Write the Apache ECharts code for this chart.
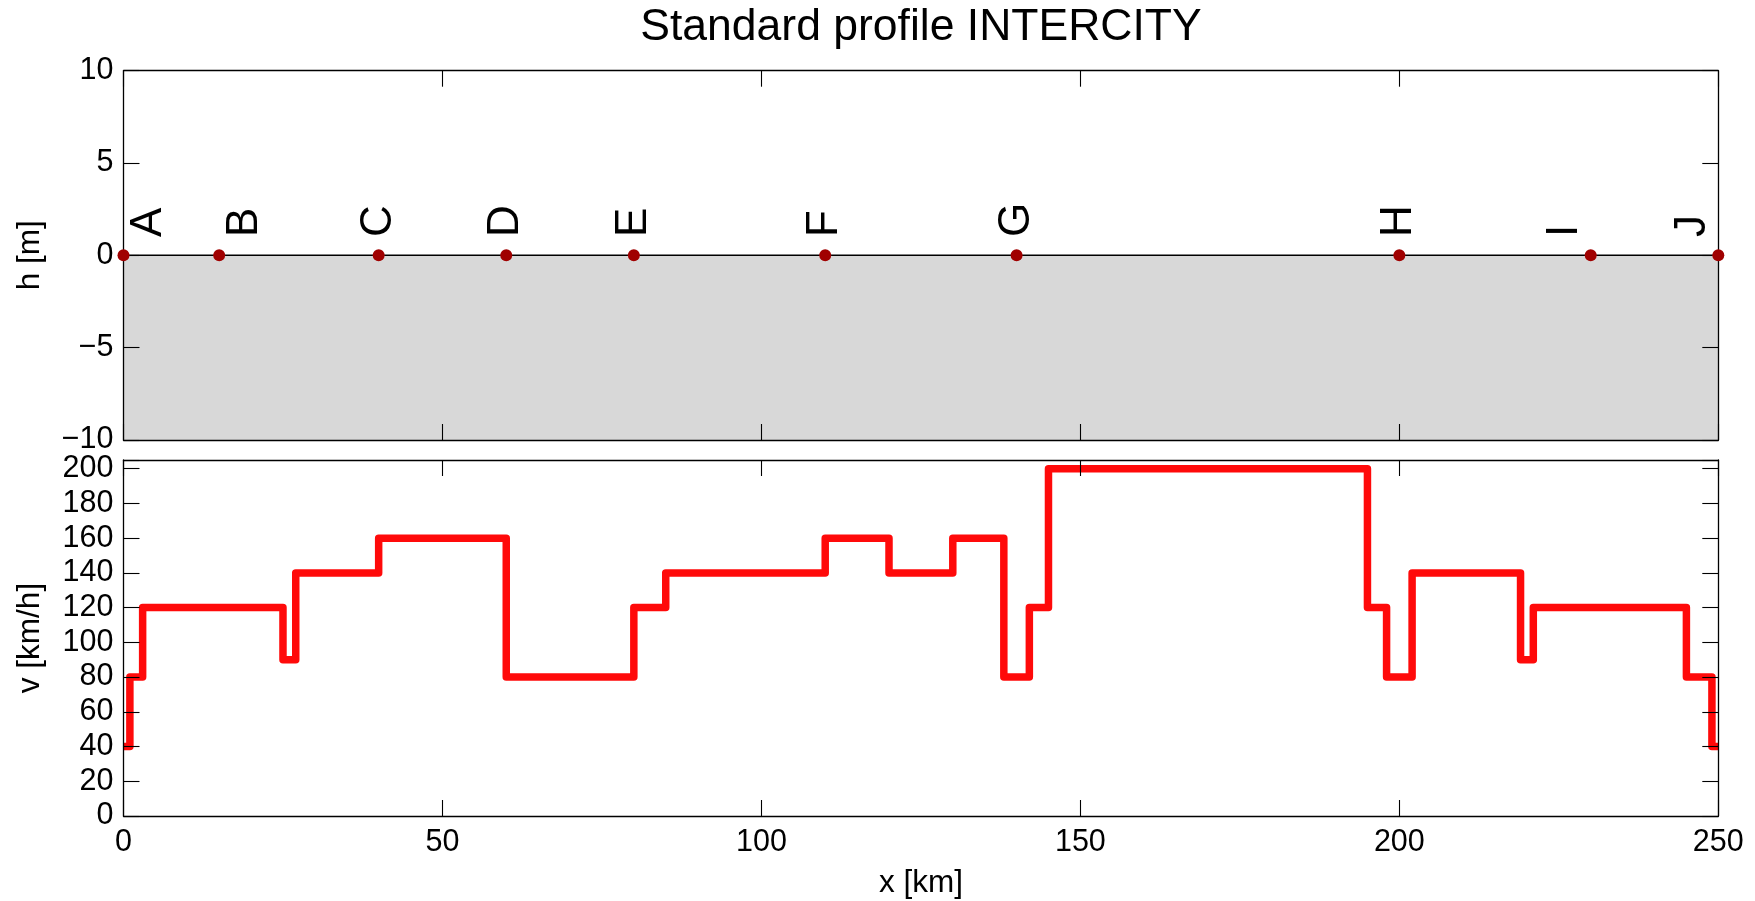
<!DOCTYPE html>
<html>
<head>
<meta charset="utf-8">
<script src="https://cdn.jsdelivr.net/npm/echarts@6/dist/echarts.min.js"></script>
<style>
    html, body { margin: 0; padding: 0; background: #fff; }
    #chart { width: 1755px; height: 901px; }
</style>
</head>
<body>
<div id="chart"></div>
<script>
// stations along the line
var stationNames = ['A', 'B', 'C', 'D', 'E', 'F', 'G', 'H', 'I', 'J'];
var stationX = [0, 15, 40, 60, 80, 110, 140, 200, 230, 250];
var stationH = [0, 0, 0, 0, 0, 0, 0, 0, 0, 0];
// where the letter is written (km), first two pushed right, last two left
var labelX = [4, 19, 40, 60, 80, 110, 140, 200, 226, 246];
var labelH = 1;

// height profile (flat)
var profileX = [0, 250];
var profileH = [0, 0];

// speed limit: segment i runs from speedBreaks[i] to speedBreaks[i+1]
var speedBreaks = [0, 1, 3, 25, 27, 40, 60, 80, 85, 110, 120, 130, 138, 142, 145, 195, 198, 202, 219, 221, 245, 249, 250];
var speedLimit = [40, 80, 120, 90, 140, 160, 80, 120, 140, 160, 140, 160, 80, 120, 200, 120, 80, 140, 90, 120, 80, 40];

var xTicks = [0, 50, 100, 150, 200, 250];
var hTicks = [-10, -5, 0, 5, 10];
var vTicks = [0, 20, 40, 60, 80, 100, 120, 140, 160, 180, 200];

var FONT = '"Liberation Sans", Arial, Helvetica, sans-serif';

function stepPoints() {
    var pts = [];
    for (var i = 0; i < speedLimit.length; i++) {
        pts.push([speedBreaks[i], speedLimit[i]]);
        pts.push([speedBreaks[i + 1], speedLimit[i]]);
    }
    return pts;
}

function zip(a, b) {
    var out = [];
    for (var i = 0; i < a.length; i++) out.push([a[i], b[i]]);
    return out;
}

function minusFmt(v) {
    return (v < 0 ? '\u2212' + Math.abs(v) : '' + v);
}

var frame = { show: true, onZero: false, lineStyle: { color: '#000', width: 1.3 } };
var tick = { show: true, inside: true, length: 16, lineStyle: { color: '#000', width: 1.1 } };
var lbl = { fontFamily: FONT, fontSize: 30.5, color: '#000' };

function xAx(grid, pos, labels) {
    return {
        type: 'value', gridIndex: grid, position: pos, min: 0, max: 250, interval: 50, z: 5,
        axisLine: frame, axisTick: tick, splitLine: { show: false },
        axisLabel: labels ? Object.assign({ margin: 11 }, lbl) : { show: false },
        name: labels ? 'x [km]' : '', nameLocation: 'middle', nameGap: 51,
        nameTextStyle: { fontFamily: FONT, fontSize: 31.5, color: '#000' }
    };
}

function yAx(grid, pos, min, max, interval, ticks, name, labels) {
    return {
        type: 'value', gridIndex: grid, position: pos, min: min, max: max, interval: interval, z: 5,
        axisLine: frame, axisTick: tick, splitLine: { show: false },
        axisLabel: labels ? Object.assign({
            margin: 10,
            formatter: function (v) { return ticks.indexOf(v) >= 0 ? minusFmt(v) : ''; }
        }, lbl) : { show: false },
        name: labels ? name : '', nameLocation: 'middle', nameGap: 77,
        nameTextStyle: { fontFamily: FONT, fontSize: 31.5, color: '#000' }
    };
}

var myChart = echarts.init(document.getElementById('chart'));

var labelData = [];
for (var i = 0; i < stationNames.length; i++) {
    labelData.push({ name: stationNames[i], value: [labelX[i], labelH] });
}

option = {
    animation: false,
    backgroundColor: '#fff',
    title: {
        text: 'Standard profile INTERCITY',
        left: 921, top: 5, padding: 0, textAlign: 'center',
        textStyle: { fontFamily: FONT, fontSize: 44.5, fontWeight: 'normal', color: '#000' }
    },
    grid: [
        { left: 123.5, right: 36.7, top: 70.7, height: 369.3 },
        { left: 123.5, right: 36.7, top: 460, height: 356 }
    ],
    xAxis: [
        xAx(0, 'bottom', false),
        xAx(0, 'top', false),
        xAx(1, 'bottom', true),
        xAx(1, 'top', false)
    ],
    yAxis: [
        yAx(0, 'left', -10, 10, 5, hTicks, 'h [m]', true),
        yAx(0, 'right', -10, 10, 5, hTicks, '', false),
        yAx(1, 'left', 0, 205, 20, vTicks, 'v [km/h]', true),
        yAx(1, 'right', 0, 205, 20, vTicks, '', false)
    ],
    series: [
        {
            type: 'line', xAxisIndex: 0, yAxisIndex: 0, data: zip(profileX, profileH),
            showSymbol: false, silent: true, z: 2,
            lineStyle: { color: '#000', width: 1.5 },
            areaStyle: { color: '#d8d8d8', opacity: 1, origin: 'start' }
        },
        {
            type: 'scatter', xAxisIndex: 0, yAxisIndex: 0, data: zip(stationX, stationH),
            symbolSize: 12, z: 10, clip: false,
            itemStyle: { color: '#a00000', opacity: 1 }
        },
        {
            type: 'scatter', xAxisIndex: 0, yAxisIndex: 0, data: labelData,
            symbolSize: 0, z: 11, silent: true,
            itemStyle: { opacity: 1 },
            label: {
                show: true, formatter: '{b}', position: 'inside', rotate: 90,
                align: 'left', verticalAlign: 'middle', opacity: 1,
                fontFamily: FONT, fontSize: 44, color: '#000'
            }
        },
        {
            type: 'line', xAxisIndex: 2, yAxisIndex: 2, data: stepPoints(),
            showSymbol: false, silent: true, z: 3,
            lineStyle: { color: '#ff0a0a', width: 7.5, join: 'round', cap: 'butt' }
        }
    ]
};

if (option && typeof option === "object") {
    myChart.setOption(option, true);
}
</script>
</body>
</html>
